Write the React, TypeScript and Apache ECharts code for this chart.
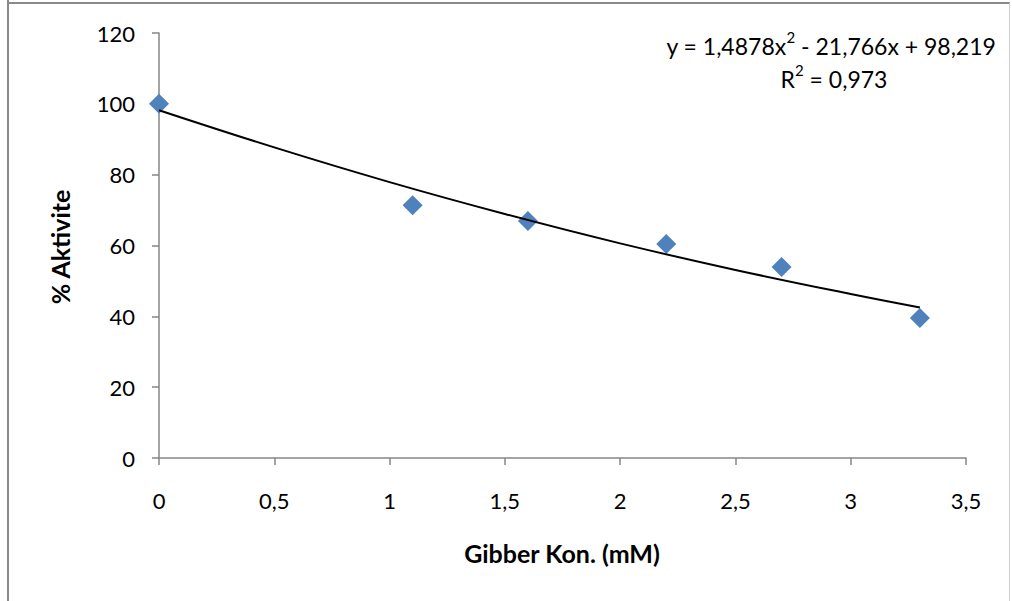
import React, { useEffect, useRef } from "react";
import * as echarts from "echarts";

const pointX = [0, 1.1, 1.6, 2.2, 2.7, 3.3];
const pointY = [100, 71.4, 66.9, 60.4, 53.9, 39.5];

const trendX = [0, 0.5, 1, 1.5, 2, 2.5, 3, 3.3];
const trendY = [98.2, 87.7, 77.9, 68.9, 60.6, 53.1, 46.3, 42.5];

const xTicks = { min: 0, max: 3.5, interval: 0.5 };
const yTicks = { min: 0, max: 120, interval: 20 };

const xTitle = "Gibber Kon. (mM)";
const yTitle = "% Aktivite";
const eqMain = ["y = 1,4878x", "2", " - 21,766x + 98,219"];
const eqR2 = ["R", "2", " = 0,973"];

const FONT = "Lato";

export default function App() {
  const ref = useRef<HTMLDivElement>(null);
  useEffect(() => {
    const chart = echarts.init(ref.current!, null, { renderer: "svg" });
    const fmt = (v: number) => String(v).replace(".", ",");
    const rich = {
      m: { fontFamily: FONT, fontSize: 23, lineHeight: 28, fill: "#000", verticalAlign: "bottom" },
      s: { fontFamily: FONT, fontSize: 15, lineHeight: 15, fill: "#000", verticalAlign: "top" },
    };
    chart.setOption({
      animation: false,
      backgroundColor: "#ffffff",
      grid: { left: 159, right: 46, top: 33, bottom: 143, containLabel: false },
      xAxis: {
        type: "value",
        min: xTicks.min,
        max: xTicks.max,
        interval: xTicks.interval,
        splitLine: { show: false },
        axisLine: { lineStyle: { color: "#868686", width: 1.5 } },
        axisTick: { show: true, inside: false, length: 7, lineStyle: { color: "#868686", width: 1.5 } },
        axisLabel: { margin: 31, color: "#000", fontFamily: FONT, fontSize: 22, formatter: fmt },
      },
      yAxis: {
        type: "value",
        min: yTicks.min,
        max: yTicks.max,
        interval: yTicks.interval,
        splitLine: { show: false },
        axisLine: { show: true, lineStyle: { color: "#868686", width: 1.5 } },
        axisTick: { show: true, inside: false, length: 7, lineStyle: { color: "#868686", width: 1.5 } },
        axisLabel: { margin: 24, color: "#000", fontFamily: FONT, fontSize: 22, formatter: fmt },
      },
      series: [
        {
          type: "scatter",
          data: pointX.map((x, i) => [x, pointY[i]]),
          symbol: "diamond",
          symbolSize: 20,
          itemStyle: { color: "#4F81BD", opacity: 1 },
          z: 2,
        },
        {
          type: "line",
          data: trendX.map((x, i) => [x, trendY[i]]),
          smooth: 0.4,
          showSymbol: false,
          symbol: "none",
          lineStyle: { color: "#000", width: 2 },
          z: 3,
        },
      ],
      graphic: [
        { type: "line", shape: { x1: 8, y1: 0, x2: 8, y2: 601 }, style: { stroke: "#8a8a8a", lineWidth: 2 } },
        { type: "line", shape: { x1: 8, y1: 3, x2: 1010, y2: 3 }, style: { stroke: "#8a8a8a", lineWidth: 2 } },
        { type: "line", shape: { x1: 1009.5, y1: 3, x2: 1009.5, y2: 601 }, style: { stroke: "#cfcfcf", lineWidth: 1 } },
        {
          type: "text",
          x: 562,
          y: 553,
          style: {
            text: xTitle,
            fontFamily: FONT,
            fontWeight: "bold",
            fontSize: 25,
            fill: "#000",
            align: "center",
            verticalAlign: "middle",
          },
        },
        {
          type: "text",
          x: 60,
          y: 247,
          rotation: Math.PI / 2,
          style: {
            text: yTitle,
            fontFamily: FONT,
            fontWeight: "bold",
            fontSize: 25,
            fill: "#000",
            align: "center",
            verticalAlign: "middle",
          },
        },
        {
          type: "text",
          x: 831,
          y: 43,
          style: {
            text: "{m|" + eqMain[0] + "}{s|" + eqMain[1] + "}{m|" + eqMain[2] + "}",
            fontFamily: FONT,
            fontSize: 23,
            fill: "#000",
            align: "center",
            verticalAlign: "middle",
            rich,
          },
        },
        {
          type: "text",
          x: 834,
          y: 76,
          style: {
            text: "{m|" + eqR2[0] + "}{s|" + eqR2[1] + "}{m|" + eqR2[2] + "}",
            fontFamily: FONT,
            fontSize: 23,
            fill: "#000",
            align: "center",
            verticalAlign: "middle",
            rich,
          },
        },
      ],
    });
    return () => chart.dispose();
  }, []);
  return (
    <div
      ref={ref}
      style={{ position: "fixed", left: 0, top: 0, width: 1012, height: 601, background: "#fff" }}
    />
  );
}
